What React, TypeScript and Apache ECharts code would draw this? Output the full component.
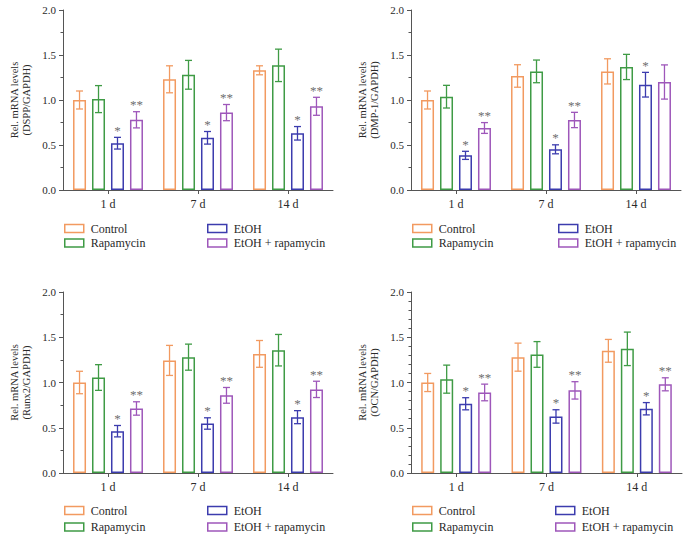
import React, { useEffect, useRef } from "react";
import * as echarts from "echarts";

const CATEGORIES = ["1 d", "7 d", "14 d"];
const GROUPS = ["Control", "Rapamycin", "EtOH", "EtOH + rapamycin"];
const Y_TICKS = [0, 0.5, 1.0, 1.5, 2.0];

// DSPP
const dsppControl = [1.0, 1.23, 1.33];
const dsppControlErr = [0.1, 0.15, 0.05];
const dsppRapa = [1.01, 1.28, 1.385];
const dsppRapaErr = [0.15, 0.16, 0.18];
const dsppEtoh = [0.52, 0.58, 0.63];
const dsppEtohErr = [0.065, 0.07, 0.075];
const dsppEr = [0.78, 0.86, 0.93];
const dsppErErr = [0.09, 0.09, 0.1];

// DMP-1
const dmpControl = [1.0, 1.267, 1.318];
const dmpControlErr = [0.1, 0.125, 0.14];
const dmpRapa = [1.037, 1.318, 1.367];
const dmpRapaErr = [0.126, 0.126, 0.14];
const dmpEtoh = [0.385, 0.452, 1.17];
const dmpEtohErr = [0.045, 0.05, 0.137];
const dmpEr = [0.689, 0.778, 1.2];
const dmpErErr = [0.06, 0.085, 0.19];

// Runx2
const runxControl = [1.0, 1.244, 1.316];
const runxControlErr = [0.124, 0.166, 0.148];
const runxRapa = [1.055, 1.28, 1.357];
const runxRapaErr = [0.142, 0.144, 0.174];
const runxEtoh = [0.462, 0.547, 0.617];
const runxEtohErr = [0.063, 0.063, 0.072];
const runxEr = [0.713, 0.858, 0.924];
const runxErErr = [0.074, 0.087, 0.09];

// OCN
const ocnControl = [1.0, 1.28, 1.35];
const ocnControlErr = [0.1, 0.155, 0.126];
const ocnRapa = [1.037, 1.31, 1.372];
const ocnRapaErr = [0.155, 0.142, 0.185];
const ocnEtoh = [0.765, 0.625, 0.71];
const ocnEtohErr = [0.067, 0.074, 0.068];
const ocnEr = [0.89, 0.913, 0.98];
const ocnErErr = [0.092, 0.096, 0.072];

const starsNone = ["", "", ""];
const starsOne = ["*", "*", "*"];
const starsTwo = ["**", "**", "**"];
const starsTwoDmp = ["**", "**", ""];

const COLORS = ["#F29A60", "#3F9B45", "#3C3CAE", "#9E57BA"];
const FONT = "Liberation Serif";
const TEXT = "#2a2a2a";

const panels = [
  {
    name: "Rel. mRNA levels\n(DSPP/GAPDH)",
    values: [dsppControl, dsppRapa, dsppEtoh, dsppEr],
    errs: [dsppControlErr, dsppRapaErr, dsppEtohErr, dsppErErr],
    stars: [starsNone, starsNone, starsOne, starsTwo],
    grid: { left: 63, top: 10, width: 270, height: 180 },
    minor: 2,
    legend: { lx: 64, rx: 207, top: 221.5, gap: 0.5 },
  },
  {
    name: "Rel. mRNA levels\n(DMP-1/GAPDH)",
    values: [dmpControl, dmpRapa, dmpEtoh, dmpEr],
    errs: [dmpControlErr, dmpRapaErr, dmpEtohErr, dmpErErr],
    stars: [starsNone, starsNone, starsOne, starsTwoDmp],
    grid: { left: 411, top: 10, width: 270, height: 180 },
    minor: 2,
    legend: { lx: 412, rx: 558, top: 221.5, gap: 0.5 },
  },
  {
    name: "Rel. mRNA levels\n(Runx2/GAPDH)",
    values: [runxControl, runxRapa, runxEtoh, runxEr],
    errs: [runxControlErr, runxRapaErr, runxEtohErr, runxErErr],
    stars: [starsNone, starsNone, starsOne, starsTwo],
    grid: { left: 63, top: 292, width: 270, height: 181 },
    minor: 2,
    legend: { lx: 64, rx: 207, top: 503.5, gap: 2.6 },
  },
  {
    name: "Rel. mRNA levels\n(OCN/GAPDH)",
    values: [ocnControl, ocnRapa, ocnEtoh, ocnEr],
    errs: [ocnControlErr, ocnRapaErr, ocnEtohErr, ocnErErr],
    stars: [starsNone, starsNone, starsOne, starsTwo],
    grid: { left: 411, top: 292, width: 271, height: 181 },
    minor: 5,
    legend: { lx: 412, rx: 555, top: 503.5, gap: 2.6 },
  },
];

const BAR_WIDTH = 13;
const BAR_GAP = 0.46;
const STRIDE = BAR_WIDTH * (1 + BAR_GAP);

function buildOption() {
  const grids: any[] = [];
  const xAxes: any[] = [];
  const yAxes: any[] = [];
  const series: any[] = [];
  const legends: any[] = [];

  panels.forEach((p, pi) => {
    grids.push({ ...p.grid, containLabel: false });
    xAxes.push({
      type: "category",
      gridIndex: pi,
      data: CATEGORIES,
      axisLine: { show: true, lineStyle: { color: "#555", width: 1 } },
      axisTick: { show: true, alignWithLabel: true, length: 4, lineStyle: { color: "#555" } },
      axisLabel: { fontSize: 12, fontFamily: FONT, color: TEXT, margin: 8 },
      splitLine: { show: false },
    });
    yAxes.push({
      type: "value",
      gridIndex: pi,
      min: Y_TICKS[0],
      max: Y_TICKS[Y_TICKS.length - 1],
      interval: 0.5,
      name: p.name,
      nameLocation: "middle",
      nameGap: 31,
      nameRotate: 90,
      nameTextStyle: { fontSize: 10.5, fontFamily: FONT, color: TEXT, lineHeight: 11.5 },
      axisLine: { show: true, lineStyle: { color: "#555", width: 1 } },
      axisTick: { show: true, length: 4, lineStyle: { color: "#555" } },
      minorTick: { show: true, splitNumber: p.minor, length: 2.5, lineStyle: { color: "#555" } },
      axisLabel: {
        fontSize: 11,
        fontFamily: FONT,
        color: TEXT,
        margin: 7,
        formatter: (v: number) => v.toFixed(1),
      },
      splitLine: { show: false },
    });

    GROUPS.forEach((g, k) => {
      series.push({
        type: "bar",
        name: g,
        xAxisIndex: pi,
        yAxisIndex: pi,
        data: p.values[k],
        barWidth: BAR_WIDTH,
        barGap: BAR_GAP * 100 + "%",
        itemStyle: { color: "#fff", borderColor: COLORS[k], borderWidth: 1.5 },
        z: 2,
      });
    });

    GROUPS.forEach((g, k) => {
      const vals = p.values[k];
      const errs = p.errs[k];
      const stars = p.stars[k];
      series.push({
        type: "custom",
        name: g + " err",
        xAxisIndex: pi,
        yAxisIndex: pi,
        z: 5,
        data: vals.map((v, i) => [i, v, errs[i]]),
        renderItem: (params: any, api: any) => {
          const ci = api.value(0);
          const m = api.value(1);
          const e = api.value(2);
          const top = api.coord([ci, m + e]);
          const bot = api.coord([ci, m - e]);
          const x = top[0] + (k - 1.5) * STRIDE;
          const cap = 3.5;
          const ls = { stroke: COLORS[k], lineWidth: 1.3 };
          const children: any[] = [
            { type: "line", shape: { x1: x, y1: top[1], x2: x, y2: bot[1] }, style: ls },
            { type: "line", shape: { x1: x - cap, y1: top[1], x2: x + cap, y2: top[1] }, style: ls },
            { type: "line", shape: { x1: x - cap, y1: bot[1], x2: x + cap, y2: bot[1] }, style: ls },
          ];
          const s = stars[params.dataIndex];
          if (s) {
            children.push({
              type: "text",
              style: {
                text: s,
                x: x,
                y: top[1] - 0.5,
                align: "center",
                verticalAlign: "bottom",
                fontSize: 13,
                fontFamily: FONT,
                fill: "#6e6e6e",
              },
            });
          }
          return { type: "group", children };
        },
      });
    });

    const mkLegend = (names: number[], left: number) => ({
      orient: "vertical",
      left,
      top: p.legend.top,
      padding: 0,
      itemWidth: 19,
      itemHeight: 8,
      itemGap: p.legend.gap,
      selectedMode: false,
      icon: "rect",
      textStyle: {
        fontSize: 12,
        fontFamily: FONT,
        color: TEXT,
        lineHeight: 14,
        padding: [0, 0, 0, 2],
      },
      data: names.map((k) => ({
        name: GROUPS[k],
        icon: "rect",
        itemStyle: { color: "#fff", borderColor: COLORS[k], borderWidth: 1.5 },
      })),
    });
    legends.push(mkLegend([0, 1], p.legend.lx));
    legends.push(mkLegend([2, 3], p.legend.rx));
  });

  return {
    animation: false,
    backgroundColor: "#fff",
    grid: grids,
    xAxis: xAxes,
    yAxis: yAxes,
    legend: legends,
    series,
  };
}

export default function App() {
  const ref = useRef<HTMLDivElement>(null);
  useEffect(() => {
    if (!ref.current) return;
    const chart = echarts.init(ref.current, undefined, { renderer: "svg" });
    chart.setOption(buildOption() as any);
    return () => chart.dispose();
  }, []);
  return (
    <div
      ref={ref}
      style={{ position: "fixed", left: 0, top: 0, width: 689, height: 541, background: "#fff" }}
    />
  );
}
